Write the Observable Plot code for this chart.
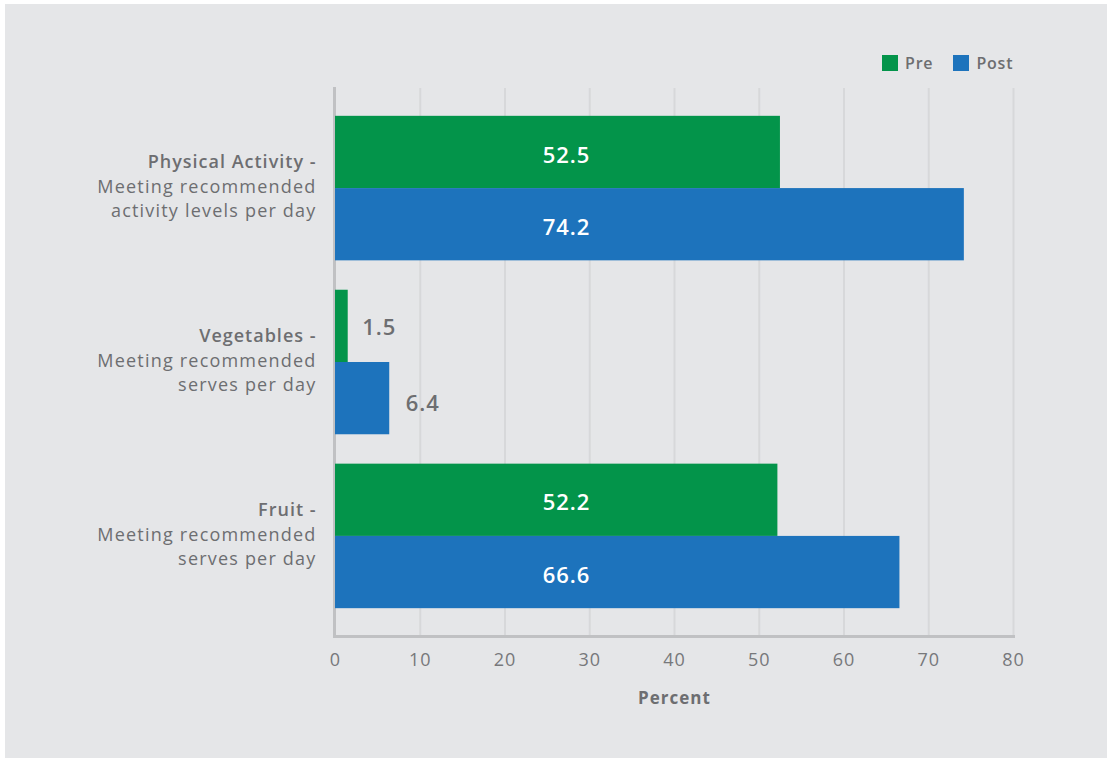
<!DOCTYPE html>
<html>
<head>
<meta charset="utf-8">
<script src="https://cdn.jsdelivr.net/npm/d3@7"></script>
<script src="https://cdn.jsdelivr.net/npm/@observablehq/plot@0.6"></script>
<style>
  html, body { margin: 0; padding: 0; background: #ffffff; }
  #panel { position: absolute; left: 5px; top: 4px; width: 1102px; height: 754px; background: #e5e6e8; }
  #chart { position: absolute; left: 0; top: 0; }
  #chart svg text { letter-spacing: 1px; }
  #chart svg .catnote text { letter-spacing: 1.2px; }
  #legend { position: absolute; left: 882px; top: 52px; display: flex; align-items: center;
            font-family: "Open Sans", sans-serif; font-size: 16px; font-weight: 600; color: #6d6e71; letter-spacing: 0.8px; }
  #legend .item { display: flex; align-items: center; margin-right: 20px; }
  #legend .sw { width: 16px; height: 16px; margin-right: 7px; }
</style>
</head>
<body>
<div id="panel"></div>
<div id="chart"></div>
<div id="legend"></div>
<script>
// ---- data ----
const categories = ["Physical Activity", "Vegetables", "Fruit"];
const categoryNotes = [
  "Meeting recommended\nactivity levels per day",
  "Meeting recommended\nserves per day",
  "Meeting recommended\nserves per day"
];
const seriesNames = ["Pre", "Post"];
const preValues = [52.5, 1.5, 52.2];
const postValues = [74.2, 6.4, 66.6];
const xTicks = [0, 10, 20, 30, 40, 50, 60, 70, 80];
const xLabel = "Percent";

// ---- styling ----
const colors = ["#03944a", "#1d73bc"];
const textColor = "#6d6e71";
const font = "'Open Sans', sans-serif";

const width = 1107, height = 758;
const marginTop = 88, marginBottom = 122, marginLeft = 335, marginRight = 94;
const padInner = 0.169, padOuter = 0.16;

const rows = categories.flatMap((c, i) => [
  {category: c, series: seriesNames[0], value: preValues[i]},
  {category: c, series: seriesNames[1], value: postValues[i]}
]);
const catRows = categories.map((c, i) => ({category: c, title: c + " -", note: categoryNotes[i]}));

const bw = d3.scaleBand().domain(categories)
  .range([marginTop, height - marginBottom])
  .paddingInner(padInner).paddingOuter(padOuter).bandwidth();

const pre = rows.filter(d => d.series === "Pre");
const post = rows.filter(d => d.series === "Post");
const labelStyle = {fontSize: 22, fontWeight: 600};

const chart = Plot.plot({
  width, height, marginTop, marginBottom, marginLeft, marginRight,
  style: {background: "transparent", fontFamily: font, color: textColor, overflow: "visible"},
  x: {domain: [0, 80], axis: null},
  y: {domain: categories, paddingInner: padInner, paddingOuter: padOuter, round: false, axis: null},
  color: {domain: seriesNames, range: colors},
  marks: [
    Plot.ruleX(xTicks.filter(t => t > 0), {stroke: "#d7d8da", strokeWidth: 2}),
    Plot.frame({anchor: "left", stroke: "#c0c1c3", strokeWidth: 3, dx: -1}),
    Plot.frame({anchor: "bottom", stroke: "#c0c1c3", strokeWidth: 3}),
    Plot.barX(pre, {y: "category", x: "value", fill: "series", insetBottom: bw / 2}),
    Plot.barX(post, {y: "category", x: "value", fill: "series", insetTop: bw / 2}),
    // inside labels
    Plot.text(pre.filter(d => d.value >= 10), {
      y: "category", frameAnchor: "left", dx: 231, dy: -bw / 4 + 3,
      text: d => d.value.toFixed(1), fill: "white", ...labelStyle, textAnchor: "middle"
    }),
    Plot.text(post.filter(d => d.value >= 10), {
      y: "category", frameAnchor: "left", dx: 231, dy: bw / 4 + 3,
      text: d => d.value.toFixed(1), fill: "white", ...labelStyle, textAnchor: "middle"
    }),
    // outside labels
    Plot.text(pre.filter(d => d.value < 10), {
      y: "category", x: "value", dx: 14, dy: -bw / 4 + 2,
      text: d => d.value.toFixed(1), fill: textColor, ...labelStyle, textAnchor: "start"
    }),
    Plot.text(post.filter(d => d.value < 10), {
      y: "category", x: "value", dx: 16, dy: bw / 4 + 5,
      text: d => d.value.toFixed(1), fill: textColor, ...labelStyle, textAnchor: "start"
    }),
    // category labels
    Plot.text(catRows, {
      y: "category", frameAnchor: "left", dx: -19, dy: -26,
      text: "title", textAnchor: "end", fill: textColor, fontSize: 18, fontWeight: 600
    }),
    Plot.text(catRows, {
      y: "category", frameAnchor: "left", dx: -19, dy: 9, className: "catnote",
      text: "note", textAnchor: "end", lineAnchor: "middle", lineHeight: 1.3,
      fill: textColor, fontSize: 18
    }),
    // x axis
    Plot.axisX({ticks: xTicks, tickSize: 0, tickPadding: 17, fontSize: 18, fill: "#77787b", label: null}),
    Plot.text([xLabel], {frameAnchor: "bottom", dy: 67, text: d => d, fill: textColor, fontSize: 17, fontWeight: 700})
  ]
});
document.getElementById("chart").appendChild(chart);

const legend = document.getElementById("legend");
seriesNames.forEach((s, i) => {
  const item = document.createElement("div");
  item.className = "item";
  const sw = document.createElement("div");
  sw.className = "sw";
  sw.style.background = colors[i];
  const label = document.createElement("span");
  label.textContent = s;
  item.appendChild(sw);
  item.appendChild(label);
  legend.appendChild(item);
});
</script>
</body>
</html>
